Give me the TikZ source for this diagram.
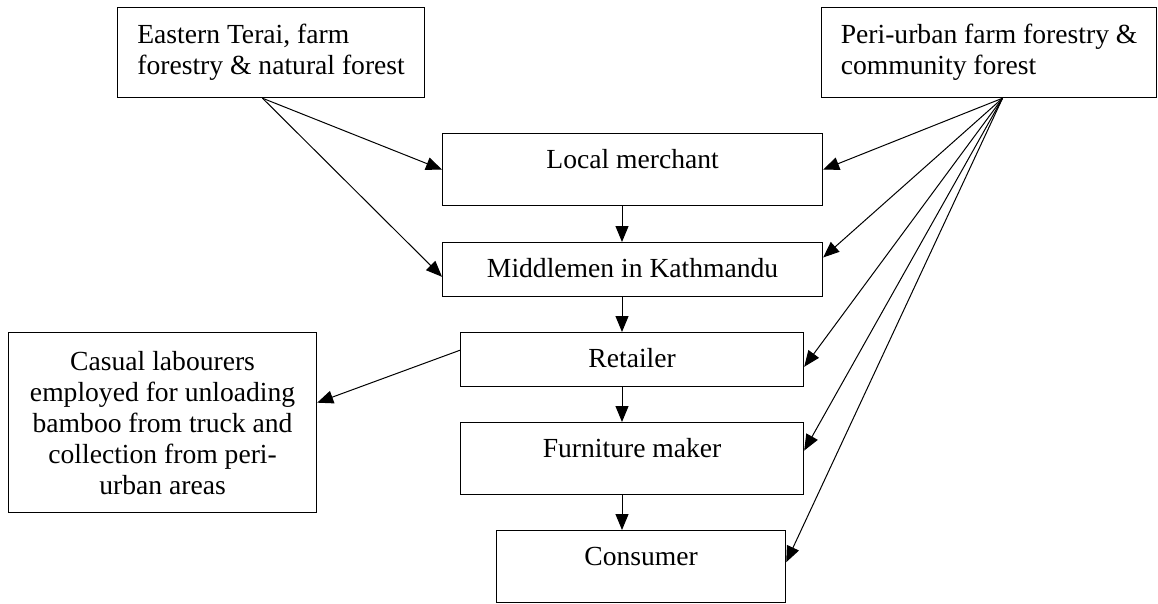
\documentclass[tikz,border=0pt]{standalone}
\usepackage{fontspec}
\setmainfont{Liberation Serif}
\usetikzlibrary{arrows.meta,calc}
\newcommand\dfs{\fontsize{27.6}{31}\selectfont}
\begin{document}
\begin{tikzpicture}[x=1pt,y=-1pt,
  box/.style={draw, line width=1.2pt, inner sep=0pt, font=\dfs},
  onebox/.style={box, text height=35pt, text depth=#1},
  conn/.style={-{Triangle[length=16pt,width=13pt]}, line width=1pt}]
\useasboundingbox (0,0) rectangle (1158,603);
% boxes
\node[box, anchor=north west, minimum width=307pt, minimum height=90pt,
      align=left] (et) at (117,7)
      {Eastern Terai, farm\\forestry \& natural forest};
\node[box, anchor=north west, minimum width=335pt, minimum height=90pt,
      align=left] (pu) at (821,7)
      {Peri-urban farm forestry \&\\community forest};
\node[onebox=37pt, anchor=north west, minimum width=380pt] (lm) at (442,133) {Local merchant};
\node[onebox=19pt, anchor=north west, minimum width=380pt] (mk) at (442,242) {Middlemen in Kathmandu};
\node[onebox=19pt, anchor=north west, minimum width=343pt] (rt) at (460,332) {Retailer};
\node[onebox=37pt, anchor=north west, minimum width=343pt] (fm) at (460,422) {Furniture maker};
\node[onebox=37pt, anchor=north west, minimum width=289pt] (cs) at (496,530) {Consumer};
\node[box, anchor=north west, minimum width=308pt, minimum height=180pt, align=center] (cl) at (8,332)
      {Casual labourers\\employed for unloading\\bamboo from truck and\\collection from peri-\\urban areas};
% helper coordinates
\coordinate (vx) at (622,0);
\coordinate (etO) at ($(et.south west)!0.472!(et.south east)$);
\coordinate (puO) at ($(pu.south west)!0.54!(pu.south east)$);
% connectors
\draw[conn] (etO) -- (lm.west);
\draw[conn] (etO) -- ($(mk.north west)!0.63!(mk.south west)$);
\draw[conn] (puO) -- (lm.east);
\draw[conn] (puO) -- ($(mk.north east)!0.28!(mk.south east)$);
\draw[conn] (puO) -- ($(rt.north east)!0.63!(rt.south east)$);
\draw[conn] (puO) -- ($(fm.north east)!0.39!(fm.south east)$);
\draw[conn] (puO) -- ($(cs.north east)!0.44!(cs.south east)$);
\draw[conn] ($(rt.north west)!0.33!(rt.south west)$) -- ($(cl.north east)!0.39!(cl.south east)$);
\draw[conn] (lm.south -| vx) -- (mk.north -| vx);
\draw[conn] (mk.south -| vx) -- (rt.north -| vx);
\draw[conn] (rt.south -| vx) -- (fm.north -| vx);
\draw[conn] (fm.south -| vx) -- (cs.north -| vx);
\end{tikzpicture}
\end{document}
